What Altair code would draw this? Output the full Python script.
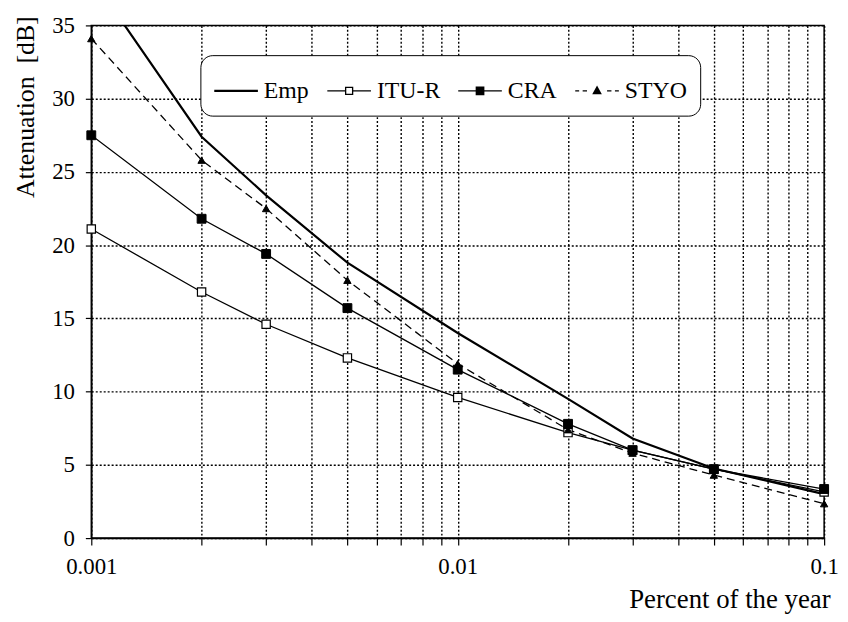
import altair as alt
import pandas as pd

# ---- data ----
percent = [0.001, 0.002, 0.003, 0.005, 0.01, 0.02, 0.03, 0.05, 0.1]
emp = [38.3, 27.4, 23.4, 18.8, 14.0, 9.5, 6.8, 4.75, 3.0]
itu_r = [21.1, 16.8, 14.6, 12.3, 9.6, 7.2, 6.0, 4.7, 3.15]
cra = [27.5, 21.8, 19.4, 15.7, 11.5, 7.8, 6.0, 4.7, 3.35]
styo = [34.1, 25.8, 22.5, 17.6, 11.9, 7.4, 5.8, 4.3, 2.35]
series_names = ["Emp", "ITU-R", "CRA", "STYO"]
x_ticks = [0.001, 0.002, 0.003, 0.004, 0.005, 0.006, 0.007, 0.008, 0.009,
           0.01, 0.02, 0.03, 0.04, 0.05, 0.06, 0.07, 0.08, 0.09, 0.1]
y_ticks = [0, 5, 10, 15, 20, 25, 30, 35]

rows = []
for name, vals in zip(series_names, [emp, itu_r, cra, styo]):
    for p, v in zip(percent, vals):
        rows.append({"percent": p, "att": v, "series": name})
df = pd.DataFrame(rows)

FONT = "Liberation Serif"

X = alt.X("percent:Q",
          scale=alt.Scale(type="log", domain=[0.001, 0.1], nice=False),
          axis=alt.Axis(values=x_ticks,
                        labelExpr="datum.value == 0.001 ? '0.001' : datum.value == 0.01 ? '0.01' : datum.value == 0.1 ? '0.1' : ''",
                        labelFont=FONT, labelFontSize=23, labelColor="black",
                        title="Percent of the year",
                        titleX=745, titleY=70, titleAlign="right", titleAnchor="end",
                        titleBaseline="alphabetic", titleAngle=0,
                        titleFont=FONT, titleFontSize=27, titleFontWeight="normal",
                        tickSize=7, labelPadding=11, labelFlush=False))
Y = alt.Y("att:Q",
          scale=alt.Scale(domain=[0, 35], nice=False),
          axis=alt.Axis(values=y_ticks, title="Attenuation\u00a0 [dB]",
                        labelFont=FONT, labelFontSize=23, labelColor="black",
                        titleFont=FONT, titleFontSize=26, titleFontWeight="normal",
                        titleX=-66, titleY=82, titleAlign="center",
                        titleBaseline="middle", titleAngle=270,
                        tickSize=6, labelPadding=11))

base = alt.Chart(df)

emp_line = base.transform_filter(alt.datum.series == "Emp").mark_line(
    clip=True, color="black", strokeWidth=2.2).encode(x=X, y=Y)
thin_lines = base.transform_filter(
    (alt.datum.series == "ITU-R") | (alt.datum.series == "CRA")).mark_line(
    clip=True, color="black", strokeWidth=1.3).encode(x=X, y=Y, detail="series:N")
styo_line = base.transform_filter(alt.datum.series == "STYO").mark_line(
    clip=True, color="black", strokeWidth=1.3, strokeDash=[8, 5]).encode(x=X, y=Y)

itu_pts = base.transform_filter(alt.datum.series == "ITU-R").mark_point(
    shape="square", filled=True, fill="white", stroke="black",
    strokeWidth=1.2, size=70, opacity=1).encode(x=X, y=Y)
cra_pts = base.transform_filter(alt.datum.series == "CRA").mark_point(
    shape="square", filled=True, fill="black", stroke="black",
    strokeWidth=1, size=80, opacity=1).encode(x=X, y=Y)
styo_pts = base.transform_filter(alt.datum.series == "STYO").mark_point(
    shape="triangle-up", filled=True, fill="black", stroke="black",
    strokeWidth=1, size=55, opacity=1).encode(x=X, y=Y)

# legend symbols: line + marker drawn as filled shapes (open square = ring)
legend_paths = [
    "M-1,-0.05H1V0.05H-1Z",
    "M-1,-0.03H-0.19V0.03H-1ZM0.19,-0.03H1V0.03H0.19Z"
    "M-0.19,-0.19H0.19V0.19H-0.19ZM-0.13,-0.13V0.13H0.13V-0.13Z",
    "M-1,-0.03H-0.2V0.03H-1ZM0.2,-0.03H1V0.03H0.2ZM-0.2,-0.2H0.2V0.2H-0.2Z",
    "M-1,-0.03H-0.82V0.03H-1ZM-0.66,-0.03H-0.46V0.03H-0.66Z"
    "M0.46,-0.03H0.66V0.03H0.46ZM0.82,-0.03H1V0.03H0.82Z"
    "M0,-0.24L0.22,0.16H-0.22Z",
]

leg = alt.Legend(orient="none", legendX=110, legendY=30,
                 direction="horizontal", labelFont=FONT, labelFontSize=24,
                 labelColor="black", labelOffset=5,
                 symbolSize=1936, symbolStrokeColor="black",
                 symbolFillColor="black", symbolStrokeWidth=1.4,
                 columnPadding=15, padding=13,
                 fillColor="white", strokeColor="black", cornerRadius=12)

# legend-only layer: its own marks are placed off-canvas and clipped away
legend_layer = base.mark_point(filled=True, fill="black", stroke="black",
                               strokeWidth=1.4, opacity=1, clip=True).encode(
    x=alt.value(-3000), y=alt.value(-3000),
    shape=alt.Shape("series:N", title="",
                    scale=alt.Scale(domain=series_names, range=legend_paths),
                    legend=leg),
)

chart = alt.layer(emp_line, thin_lines, styo_line, itu_pts, cra_pts, styo_pts,
                  legend_layer).properties(
    width=739, height=517,
    autosize=alt.AutoSizeParams(type="none"),
    padding={"left": 84, "top": 15, "right": 16, "bottom": 74},
    background="white",
).configure_view(
    stroke="black", strokeWidth=1.5
).configure_axis(
    domainColor="black", domainWidth=1.5,
    tickColor="black", tickWidth=1.2,
    grid=True, gridColor="black", gridDash=[2, 2], gridWidth=1.4, gridOpacity=1,
)

chart.save("out.html", embed_options={"renderer": "svg", "actions": False})
